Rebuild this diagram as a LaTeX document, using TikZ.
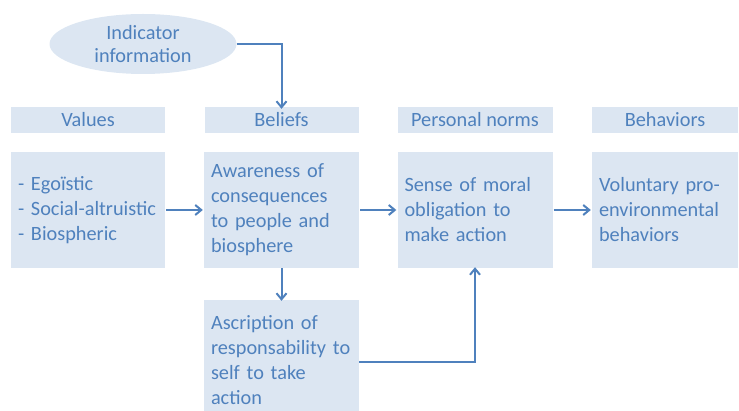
\documentclass[tikz,border=0pt]{standalone}
\usepackage{fontspec}
\setmainfont{Carlito}
\usetikzlibrary{shapes.geometric,arrows.meta}
\definecolor{boxfill}{HTML}{DCE6F2}
\definecolor{boxtext}{HTML}{4F81BD}
\tikzstyle{headbox} = [fill=boxfill, text=boxtext, minimum height=26pt, inner sep=0pt, font=\fontsize{20.3}{22}\selectfont]
\tikzstyle{mainbox} = [fill=boxfill, text=boxtext, minimum height=116pt, align=left, inner xsep=7pt, inner ysep=0pt, font=\fontsize{20.3}{25}\selectfont]
\tikzstyle{infoellipse} = [ellipse, fill=boxfill, text=boxtext, minimum width=187pt, minimum height=60pt, inner sep=0pt, align=center, font=\fontsize{20.3}{23}\selectfont]
\tikzstyle{myarrow} = [draw=boxtext, line width=2pt, -{Straight Barb[length=6pt,width=10pt]}]

\begin{document}
\begin{tikzpicture}[x=1pt,y=-1pt]
\useasboundingbox (0,0) rectangle (739,411);
% oval on top
\node [infoellipse] (info) at (143,44) {Indicator\\information};
% column headers
\node [headbox, minimum width=154pt] (valhead) at (88,120) {Values};
\node [headbox, minimum width=154pt] (belhead) at (281.5,120) {Beliefs};
\node [headbox, minimum width=155pt] (normhead) at (475,120) {Personal norms};
\node [headbox, minimum width=146pt] (behhead) at (665,120) {Behaviors};
% main row
\node [mainbox, text width=140pt] (values) at (88,210) {- Ego\"istic\\- Social-altruistic\\- Biospheric};
\node [mainbox, text width=141pt] (beliefs) at (281.5,210) {Awareness of\\consequences\\to people and\\biosphere};
\node [mainbox, text width=141pt] (norms) at (475,210) {Sense of moral\\obligation to\\make action};
\node [mainbox, text width=132pt] (behav) at (665,210) {Voluntary pro-\\environmental\\behaviors};
% below beliefs (runs past the lower edge)
\node [mainbox, text width=141pt, minimum height=120pt] (ascr) at (281.5,360) {Ascription of\\responsability to\\self to take\\action};
% connectors
\draw [myarrow] (info.east) -| ([yshift=-2pt]belhead.north);
\draw [myarrow] ([xshift=1pt]values.east) -- ([xshift=-1pt]beliefs.west);
\draw [myarrow] ([xshift=1pt]beliefs.east) -- ([xshift=-1pt]norms.west);
\draw [myarrow] ([xshift=1pt]norms.east) -- ([xshift=-1pt]behav.west);
\draw [myarrow] (beliefs.south) -- ([yshift=-1pt]ascr.north);
\draw [myarrow] ([yshift=-2pt]ascr.east) -| ([yshift=1pt]norms.south);
\end{tikzpicture}
\end{document}
